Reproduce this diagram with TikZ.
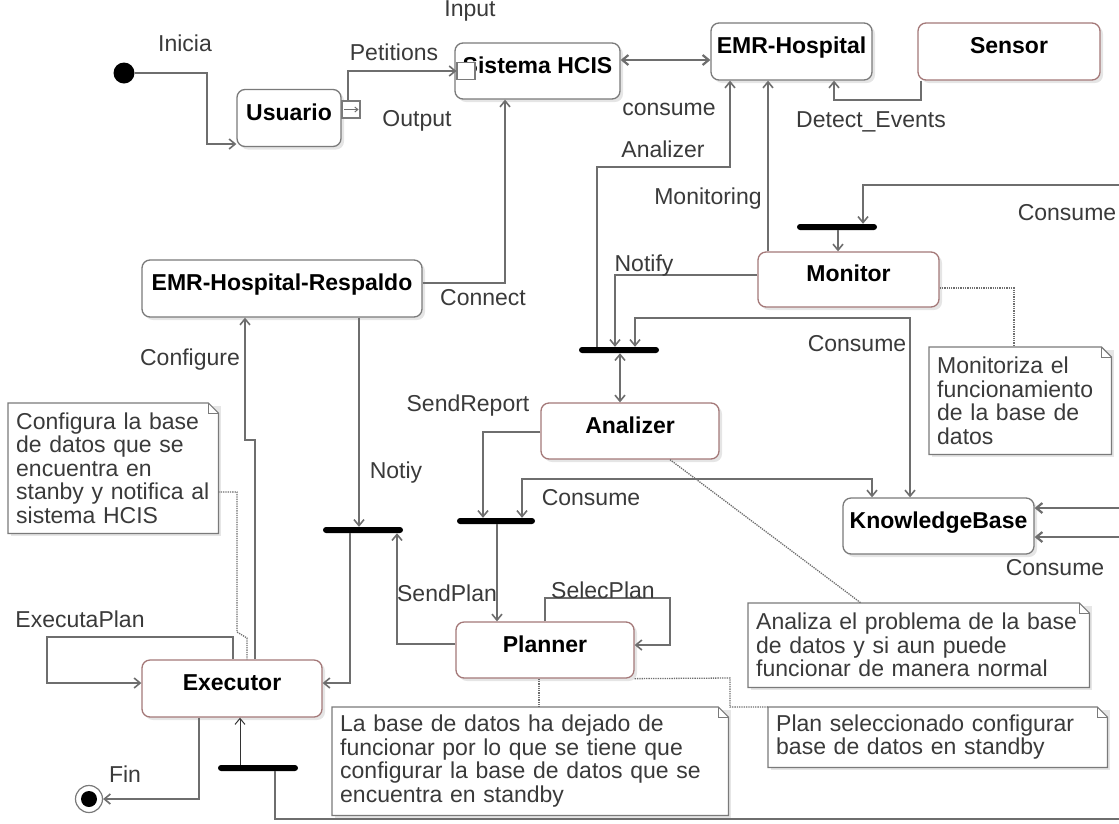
\documentclass[tikz,border=0pt]{standalone}
\usepackage{fontspec}
\setmainfont{Liberation Sans}
\usetikzlibrary{arrows.meta,backgrounds,shadows}

\definecolor{linec}{HTML}{6E6E6E}
\definecolor{boxc}{HTML}{7A7A7A}
\definecolor{redc}{HTML}{A47878}
\definecolor{labc}{HTML}{3A3A3A}
\definecolor{shadc}{HTML}{E6E6E6}

% note outline with folded corner, drawn behind the note text
\newcommand\notefold[1]{%
  \begin{pgfonlayer}{background}
    \fill[shadc] ([shift={(3pt,-3pt)}]#1.north west) rectangle ([shift={(3pt,-3pt)}]#1.south east);
    \draw[boxc, line width=1.2pt, fill=white]
      (#1.north west) -- ([xshift=-10pt]#1.north east) -- ([yshift=-10pt]#1.north east)
      -- (#1.south east) -- (#1.south west) -- cycle;
    \draw[boxc, line width=1pt]
      ([xshift=-10pt]#1.north east) -- ([xshift=-10pt,yshift=-10pt]#1.north east)
      -- ([yshift=-10pt]#1.north east);
  \end{pgfonlayer}}

\begin{document}
\begin{tikzpicture}[x=1pt,y=-1pt,
  font=\fontsize{23}{23.5}\selectfont,
  state/.style={draw=boxc, line width=1.3pt, rounded corners=8pt, fill=white,
    inner sep=0pt, text height=17pt, text depth=13pt,
    font=\fontsize{23}{23.5}\selectfont\bfseries,
    drop shadow={shadow xshift=3pt, shadow yshift=-3pt, fill=black, opacity=0.10}},
  redstate/.style={state, draw=redc},
  port/.style={draw=boxc, line width=1.1pt, fill=white, inner sep=0pt,
    minimum width=18pt, minimum height=17pt},
  syncbar/.style={fill=black, inner sep=0pt, minimum width=80pt, minimum height=6pt,
    rounded corners=3pt},
  lab/.style={text=labc, anchor=base, inner sep=0pt},
  note/.style={anchor=north west, inner xsep=8pt, inner ysep=0pt, align=left, text=labc},
  flow/.style={draw=linec, line width=1.6pt, -{Straight Barb[length=6pt,width=10pt]}},
  flow2/.style={draw=linec, line width=1.6pt,
    {Straight Barb[length=6pt,width=10pt]}-{Straight Barb[length=6pt,width=10pt]}},
  thinflow/.style={draw=black!80, line width=1pt, -{Straight Barb[length=6pt,width=10pt]}},
  dotc/.style={draw=linec, line width=1.3pt, densely dotted}
]
\useasboundingbox (0,0) rectangle (1119,823);
\begin{pgfonlayer}{background}
  \fill[white] (0,0) rectangle (1119,823);
\end{pgfonlayer}
\clip (0,0) rectangle (1119,823);

% states
\node[state, minimum width=104pt, minimum height=57pt] (usuario) at (289,118) {Usuario};
\node[state, minimum width=165pt, minimum height=56pt] (sistema) at (537.5,71) {Sistema HCIS};
\node[state, minimum width=161pt, minimum height=57pt] (emr) at (791.5,51.5) {EMR-Hospital};
\node[redstate, minimum width=182pt, minimum height=57pt] (sensor) at (1009,51.5) {Sensor};
\node[state, minimum width=280pt, minimum height=57pt] (respaldo) at (282,288.5) {EMR-Hospital-Respaldo};
\node[redstate, minimum width=181pt, minimum height=55pt] (monitor) at (848.5,279.5) {Monitor};
\node[redstate, minimum width=178pt, minimum height=56pt] (analizer) at (630,431) {Analizer};
\node[state, minimum width=191pt, minimum height=56pt] (kb) at (938.5,526) {KnowledgeBase};
\node[redstate, minimum width=178pt, minimum height=56pt] (planner) at (545,650) {Planner};
\node[redstate, minimum width=180pt, minimum height=57pt] (executor) at (232,688.5) {Executor};

% ports
\node[port] (uport) at (351,109.5) {};
\draw[linec, line width=1pt, -{Straight Barb[length=3pt,width=5pt]}]
  ([xshift=3pt]uport.west) -- ([xshift=-2pt]uport.east);
\node[port] (sport) at (466,71) {};

% initial and final states
\node[circle, fill=black, minimum size=21pt, inner sep=0pt] (init) at (124,73) {};
\node[circle, draw=boxc, line width=1.2pt, fill=white, minimum size=27pt, inner sep=0pt,
  path picture={\fill[black] (path picture bounding box.center) circle (8pt);}] (fin) at (89,799) {};

% synchronisation bars
\node[syncbar] (bar1) at (837,227) {};
\node[syncbar] (bar3) at (619,350) {};
\node[syncbar, minimum width=78pt] (bar2) at (496,521) {};
\node[syncbar] (bar4) at (363,530) {};
\node[syncbar] (bar5) at (258,768) {};

% notes
\node[note, text width=194pt, minimum height=130pt] (cnote) at (8,403)
  {Configura la base\\de datos que se\\encuentra en\\stanby y notifica al\\sistema HCIS};
\notefold{cnote}
\node[note, text width=166pt, minimum height=107pt] (mnote) at (929,347)
  {Monitoriza el\\funcionamiento\\de la base de\\datos};
\notefold{mnote}
\node[note, text width=325pt, minimum height=84pt] (anote) at (748,603)
  {Analiza el problema de la base\\de datos y si aun puede\\funcionar de manera normal};
\notefold{anote}
\node[note, text width=380pt, minimum height=108pt] (lnote) at (332,707)
  {La base de datos ha dejado de\\funcionar por lo que se tiene que\\configurar la base de datos que se\\encuentra en standby};
\notefold{lnote}
\node[note, text width=323pt, minimum height=60pt] (pnote) at (768,707)
  {Plan seleccionado configurar\\base de datos en standby};
\notefold{pnote}

% free ends at the right border
\coordinate (rA) at (1125,185);
\coordinate (rB) at (1125,508);
\coordinate (rC) at (1125,537);
\coordinate (rD) at (1125,819);

% transitions
\draw[flow] (init.east) -- (207,73) -- (207,144) -- (usuario.west |- 0,144);
\draw[flow] (uport.north -| 348,0) -- (348,71) -- (sport.west |- 0,71);
\draw[flow2, line width=2.2pt] (sistema.east |- 0,60) -- (emr.west |- 0,60);
\draw[flow] (respaldo.east |- 0,283) -- (505,283) -- (sistema.south -| 505,0);
\draw[flow] (sensor.south -| 921,0) -- (921,100) -- (834,100) -- (emr.south -| 834,0);
\draw[flow] (bar3.north -| 597,0) -- (597,167) -- (730,167) -- (emr.south -| 730,0);
\draw[flow] (monitor.north -| 768,0) -- (emr.south -| 768,0);
\draw[flow] (rA) -- (863,185) -- (bar1.north -| 863,0);
\draw[flow] (bar1.south -| 838,0) -- (monitor.north -| 838,0);
\draw[flow] (monitor.west |- 0,275) -- (615,275) -- (bar3.north -| 615,0);
\draw[flow2] (bar3.north -| 635,0) -- (635,318) -- (910,318) -- (kb.north -| 910,0);
\draw[flow2] (bar3.south -| 620,0) -- (analizer.north -| 620,0);
\draw[flow] (analizer.west |- 0,432) -- (483,432) -- (bar2.north -| 483,0);
\draw[flow2] (bar2.north -| 522,0) -- (522,479) -- (872,479) -- (kb.north -| 872,0);
\draw[flow, line width=2.2pt] (rB) -- (kb.east |- 0,508);
\draw[flow, line width=2.2pt] (rC) -- (kb.east |- 0,537);
\draw[flow] (bar2.south -| 497,0) -- (planner.north -| 497,0);
\draw[flow] (planner.north -| 545,0) -- (545,598) -- (670,598) -- (670,645) -- (planner.east |- 0,645);
\draw[flow] (planner.west |- 0,644) -- (397,644) -- (bar4.south -| 397,0);
\draw[flow] (respaldo.south -| 359,0) -- (bar4.north -| 359,0);
\draw[flow] (bar4.south -| 350,0) -- (350,683) -- (executor.east |- 0,683);
\draw[flow] (executor.north -| 255,0) -- (255,440) -- (245,440) -- (respaldo.south -| 245,0);
\draw[flow] (executor.north -| 233,0) -- (233,637) -- (47,637) -- (47,683) -- (executor.west |- 0,683);
\draw[thinflow] (bar5.north -| 240,0) -- (executor.south -| 240,0);
\draw[linec, line width=2.4pt] (bar5.south -| 275,0) -- (275,819) -- (rD);
\draw[flow] (executor.south -| 199,0) -- (199,799) -- (fin.east);

% note anchors
\draw[dotc] (monitor.east |- 0,288) -- (1014,288) -- (mnote.north -| 1014,0);
\draw[dotc] (analizer.south -| 670,0) -- (anote.north -| 861,0);
\draw[dotc] (planner.south -| 539,0) -- (lnote.north -| 539,0);
\draw[dotc] (planner.south east) -- (730,678) -- (730,707) -- (pnote.north west);
\draw[dotc] (cnote.east |- 0,492) -- (237,492) -- (237,632) -- (247,638) -- (executor.north -| 247,0);

% transition labels
\node[lab] (tInicia) at (185,51) {Inicia};
\node[lab] (tPet) at (394,60) {Petitions};
\node[lab] (tOut) at (417,126) {Output};
\node[lab] (tIn) at (470,16) {Input};
\node[lab] (tcons) at (669,115) {consume};
\node[lab] (tDet) at (871,127) {Detect\_Events};
\node[lab] (tAna) at (663,157) {Analizer};
\node[lab] (tMon) at (708,204) {Monitoring};
\node[lab] (tCons1) at (1067,220) {Consume};
\node[lab] (tNotify) at (644,271) {Notify};
\node[lab] (tConn) at (483,305) {Connect};
\node[lab] (tCons2) at (857,351) {Consume};
\node[lab] (tConf) at (190,365) {Configure};
\node[lab] (tSendR) at (468,411) {SendReport};
\node[lab] (tNotiy) at (396,478) {Notiy};
\node[lab] (tCons3) at (591,505) {Consume};
\node[lab] (tCons4) at (1055,575) {Consume};
\node[lab] (tSendP) at (447,601) {SendPlan};
\node[lab] (tSelec) at (603,598) {SelecPlan};
\node[lab] (tExec) at (80,627) {ExecutaPlan};
\node[lab] (tFin) at (125,782) {Fin};
\end{tikzpicture}
\end{document}
